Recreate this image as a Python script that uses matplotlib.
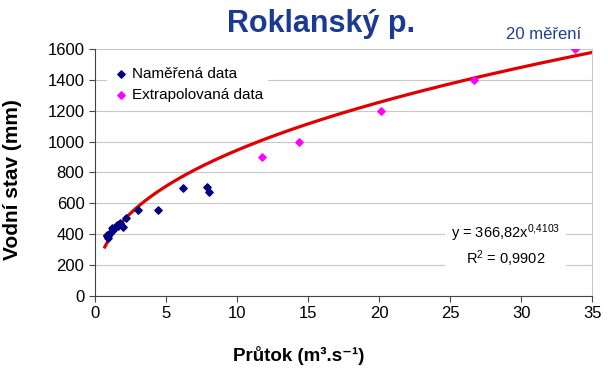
import numpy as np
import matplotlib
matplotlib.use('Agg')
import matplotlib.pyplot as plt

plt.rcParams['font.family'] = ['Liberation Sans', 'DejaVu Sans']
plt.rcParams['mathtext.fontset'] = 'custom'
plt.rcParams['mathtext.rm'] = 'Liberation Sans'
plt.rcParams['mathtext.default'] = 'regular'

# measured discharge (m3/s) and water level (mm)
q_measured = [0.82, 0.88, 0.94, 1.06, 1.2, 1.29, 1.53, 1.62, 1.76, 2.0, 2.18,
              3.05, 4.41, 6.17, 7.86, 8.03]
h_measured = [395, 385, 374, 406, 440, 427, 460, 450, 471, 449, 503,
              557, 557, 697, 708, 670]

# extrapolated points
q_extra = [11.75, 14.4, 20.15, 26.7, 33.8]
h_extra = [900, 1000, 1200, 1400, 1600]

# power trendline y = a * x^b
coef_a = 366.82
coef_b = 0.4103
r2 = 0.9902

fig = plt.figure(figsize=(6.08, 3.68), dpi=100)
ax = fig.add_axes([0.156, 0.196, 0.818, 0.671])

xs = np.linspace(0.7, 35, 300)
ax.plot(xs, coef_a * xs ** coef_b, color='#e00000', lw=2.3, zorder=2)
ax.scatter(q_measured, h_measured, marker='D', s=14, color='#000080',
           zorder=3, label='Naměřená data')
ax.scatter(q_extra, h_extra, marker='D', s=14, color='#ff00ff',
           zorder=3, label='Extrapolovaná data')

ax.set_xlim(0, 35)
ax.set_ylim(0, 1600)
ax.set_xticks(np.arange(0, 36, 5))
ax.set_yticks(np.arange(0, 1601, 200))
ax.tick_params(labelsize=12, length=4, color='#444444')
ax.yaxis.grid(True, color='#c8c8c8', lw=0.8)
ax.set_axisbelow(True)
ax.spines['top'].set_visible(False)
ax.spines['right'].set_color('#c8c8c8')
ax.spines['left'].set_color('#444444')
ax.spines['bottom'].set_color('#444444')

ax.set_xlabel('Průtok (m³.s⁻¹)', fontsize=13.5, fontweight='bold')
ax.xaxis.set_label_coords(0.41, -0.205)
ax.set_ylabel('Vodní stav (mm)', fontsize=15, fontweight='bold')
ax.yaxis.set_label_coords(-0.147, 0.47)

leg = ax.legend(loc='upper left', bbox_to_anchor=(0.01, 0.975), frameon=True,
                fontsize=11, handletextpad=0.1, borderpad=0.3,
                labelspacing=0.45, handlelength=1.2, scatterpoints=1)
leg.get_frame().set_edgecolor('none')
leg.get_frame().set_facecolor('white')
leg.get_frame().set_alpha(1)

eq = ('y = ' + f'{coef_a:.2f}'.replace('.', ',') + 'x$^{' +
      f'{coef_b:.4f}'.replace('.', '{,}') + '}$\n' +
      'R$^{2}$ = ' + f'{r2:.4f}'.replace('.', ','))
ax.text(28.9, 326, eq, fontsize=10.5, ha='center', va='center',
        linespacing=1.25,
        bbox=dict(facecolor='white', edgecolor='none', pad=4))

fig.text(0.528, 0.935, 'Roklanský p.', fontsize=22, fontweight='bold',
         color='#1a3a94', ha='center', va='center')
fig.text(0.955, 0.905, '20 měření', fontsize=12, color='#1f3f8f',
         ha='right', va='center')

fig.savefig('out.png', dpi=100)
